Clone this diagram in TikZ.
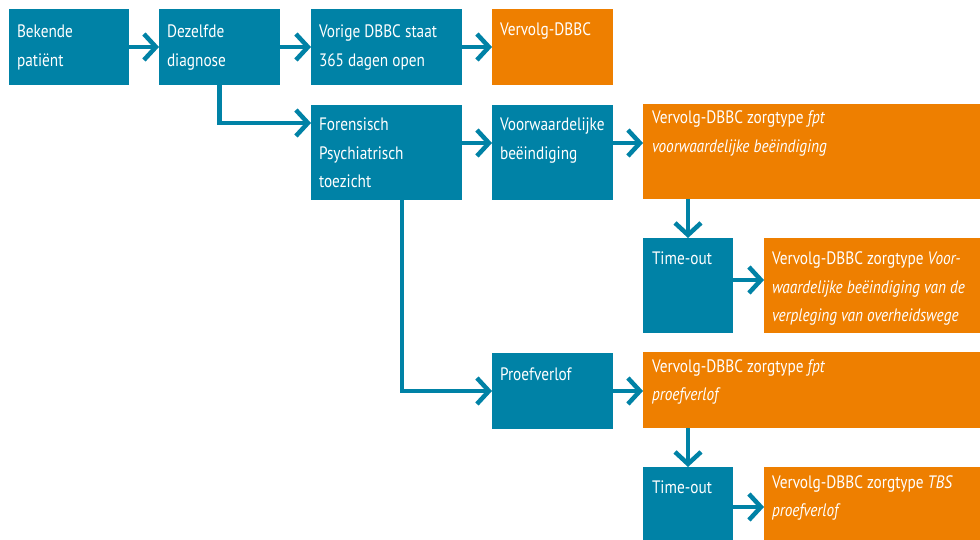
\documentclass[tikz,border=0pt]{standalone}
\usepackage{fontspec}
\setmainfont[FakeStretch=0.85]{PT Sans}
\usetikzlibrary{arrows.meta}
\definecolor{rblue}{RGB}{0,130,166}
\definecolor{rorange}{RGB}{238,127,0}
\newcommand\mlines[1]{\vtop{\baselineskip=28.5pt\lineskiplimit=-40pt\halign{##\hfil\cr#1\crcr}}}
\begin{document}
\begin{tikzpicture}[x=1pt,y=-1pt,
  box/.style={draw=none, inner sep=0pt, outer sep=0pt, anchor=north west},
  bluebox/.style={box, fill=rblue},
  orangebox/.style={box, fill=rorange},
  txt/.style={anchor=base west, inner sep=0pt, outer sep=0pt, text=white, font=\fontsize{18}{28.5}\selectfont},
  conn/.style={draw=rblue, line width=4.5pt, -{Straight Barb[length=12pt,width=26pt]}}]
\useasboundingbox (0,0) rectangle (980,540);
\fill[white] (0,0) rectangle (980,540);
% boxes
\node[bluebox, minimum width=120pt, minimum height=76pt] (b1) at (9,9) {};
\node[bluebox, minimum width=121pt, minimum height=76pt] (b2) at (159,9) {};
\node[bluebox, minimum width=151pt, minimum height=76pt] (b3) at (311,9) {};
\node[orangebox, minimum width=121pt, minimum height=76pt] (b4) at (492,9) {};
\node[bluebox, minimum width=151pt, minimum height=95pt] (b5) at (311,105) {};
\node[bluebox, minimum width=121pt, minimum height=95pt] (b6) at (492,105) {};
\node[orangebox, minimum width=337pt, minimum height=95pt] (o1) at (643,104) {};
\node[bluebox, minimum width=90pt, minimum height=95pt] (t1) at (643,238) {};
\node[orangebox, minimum width=216pt, minimum height=95pt] (o2) at (764,238) {};
\node[bluebox, minimum width=121pt, minimum height=76pt] (pv) at (492,353) {};
\node[orangebox, minimum width=337pt, minimum height=76pt] (o3) at (643,352) {};
\node[bluebox, minimum width=90pt, minimum height=73pt] (t2) at (643,467) {};
\node[orangebox, minimum width=216pt, minimum height=73pt] (o4) at (764,467) {};
% texts
\node[txt] (x1) at ([xshift=8pt,yshift=-29pt]b1.north west) {\mlines{Bekende\cr patiënt}};
\node[txt] (x2) at ([xshift=8pt,yshift=-29pt]b2.north west) {\mlines{Dezelfde\cr diagnose}};
\node[txt] (x3) at ([xshift=8pt,yshift=-29pt]b3.north west) {\mlines{Vorige DBBC staat\cr 365 dagen open}};
\node[txt] (x4) at ([xshift=8pt,yshift=-27pt]b4.north west) {\mlines{Vervolg-DBBC}};
\node[txt] (x5) at ([xshift=8pt,yshift=-26pt]b5.north west) {\mlines{Forensisch\cr Psychiatrisch\cr toezicht}};
\node[txt] (x6) at ([xshift=8pt,yshift=-26pt]b6.north west) {\mlines{Voorwaardelijke\cr beëindiging}};
\node[txt] (x7) at ([xshift=9pt,yshift=-20pt]o1.north west) {\mlines{Vervolg-DBBC zorgtype \textit{fpt}\cr \textit{voorwaardelijke beëindiging}}};
\node[txt] (x8) at ([xshift=9pt,yshift=-27pt]t1.north west) {\mlines{Time-out}};
\node[txt] (x9) at ([xshift=8pt,yshift=-27pt]o2.north west) {\mlines{Vervolg-DBBC zorgtype \textit{Voor-}\cr \textit{waardelijke beëindiging van de}\cr \textit{verpleging van overheidswege}}};
\node[txt] (x10) at ([xshift=8pt,yshift=-27pt]pv.north west) {\mlines{Proefverlof}};
\node[txt] (x11) at ([xshift=9pt,yshift=-20pt]o3.north west) {\mlines{Vervolg-DBBC zorgtype \textit{fpt}\cr \textit{proefverlof}}};
\node[txt] (x12) at ([xshift=9pt,yshift=-26pt]t2.north west) {\mlines{Time-out}};
\node[txt] (x13) at ([xshift=8pt,yshift=-21pt]o4.north west) {\mlines{Vervolg-DBBC zorgtype \textit{TBS}\cr \textit{proefverlof}}};
% connectors
\draw[conn] (b1.east) -- (b2.west);
\draw[conn] (b2.east) -- (b3.west);
\draw[conn] (b3.east) -- (b4.west);
\draw[conn] (b2.south) |- ([yshift=-18pt]b5.north west);
\draw[conn] ([yshift=-38pt]b5.north east) -- ([yshift=-38pt]b6.north west);
\draw[conn] ([yshift=-38pt]b6.north east) -- ([yshift=-39pt]o1.north west);
\draw[conn] ([xshift=91pt]b5.south west) |- (pv.west);
\draw[conn] (pv.east) -- (o3.west |- pv.east);
\draw[conn] (t1.north |- o1.south) -- (t1.north);
\draw[conn] ([yshift=-42pt]t1.north east) -- ([yshift=-42pt]o2.north west);
\draw[conn] (t2.north |- o3.south) -- (t2.north);
\draw[conn] ([yshift=-40pt]t2.north east) -- ([yshift=-40pt]o4.north west);
\end{tikzpicture}
\end{document}
